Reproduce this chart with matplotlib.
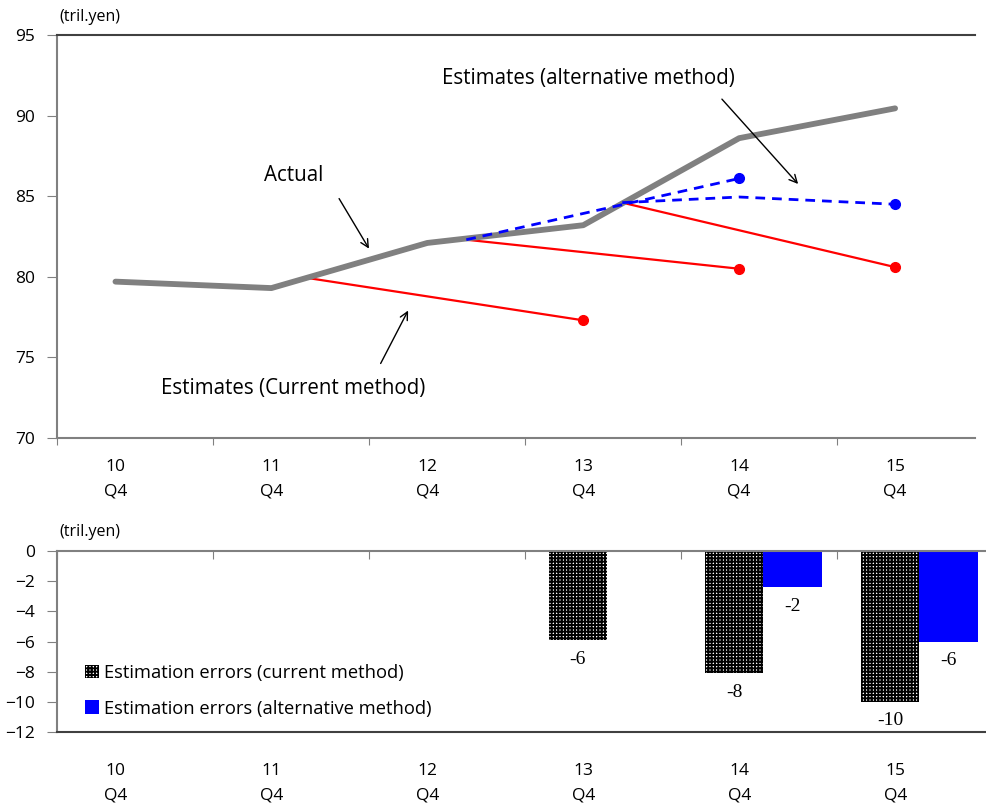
import numpy as np
import matplotlib
matplotlib.use("Agg")
import matplotlib.pyplot as plt

plt.rcParams['font.family'] = ['Open Sans', 'DejaVu Sans']
plt.rcParams['hatch.linewidth'] = 1.4

# fiscal-year categories, one per Q4; x positions are counted in quarters from 10Q4
years = ['10', '11', '12', '13', '14', '15']
year_q = [0, 4, 8, 12, 16, 20]

# actual values (tril.yen)
actual = [79.7, 79.3, 82.1, 83.2, 88.6, 90.45]

# estimates with the current method: start point on the actual line, end point 7 quarters later
cur_start_q = [5, 9, 13]
cur_start = [79.9, 82.3, 84.6]
cur_end_q = [12, 16, 20]
cur_end = [77.3, 80.5, 80.6]

# estimates with the alternative method
alt1_q = [9, 16]
alt1 = [82.3, 86.1]
alt2_q = [13, 16, 20]
alt2 = [84.6, 84.95, 84.5]

# estimation errors (tril.yen) for 13Q4, 14Q4, 15Q4
err_q = [12, 16, 20]
err_current = [-5.9, -8.1, -10.0]
err_alt = [np.nan, -2.4, -6.0]

W, H = 986, 806
fig = plt.figure(figsize=(W / 100, H / 100), dpi=100)


def px_axes(left, top, right, bottom):
    return fig.add_axes([left / W, 1 - bottom / H, (right - left) / W, (bottom - top) / H])


grey = '#808080'
dark = '#404040'
tick_fs = 12.5

# ---- upper panel: levels ----
ax = px_axes(57, 35, 975, 438)
ax.plot(year_q, actual, color='#808080', lw=4.2, solid_capstyle='round', zorder=3)
for s_q, s, e_q, e in zip(cur_start_q, cur_start, cur_end_q, cur_end):
    ax.plot([s_q, e_q], [s, e], color='#ff0000', lw=1.6, zorder=2)
    ax.plot(e_q, e, 'o', color='#ff0000', ms=7, zorder=4)
ax.plot(alt1_q, alt1, color='#0000ff', lw=2, ls=(0, (3.5, 2.5)), zorder=4)
ax.plot(alt1_q[-1], alt1[-1], 'o', color='#0000ff', ms=7, zorder=4)
ax.plot(alt2_q, alt2, color='#0000ff', lw=2, ls=(0, (3.5, 2.5)), zorder=4)
ax.plot(alt2_q[-1], alt2[-1], 'o', color='#0000ff', ms=7, zorder=4)

ax.set_xlim(-1.45, 22.05)
ax.set_ylim(70, 95)
ax.set_yticks(range(70, 96, 5))
ax.set_xticks(np.arange(-1.5, 22, 4))
ax.set_xticks(year_q, minor=True)
ax.set_xticklabels([])
ax.set_xticklabels([y + '\nQ4' for y in years], minor=True)
ax.tick_params(axis='x', which='major', direction='out', length=5, color=grey)
ax.tick_params(axis='x', which='minor', length=0, pad=15, labelsize=tick_fs)
ax.tick_params(axis='y', direction='out', length=7, color=grey, pad=9, labelsize=tick_fs)
for lab in ax.get_xticklabels(minor=True):
    lab.set_linespacing(1.75)
ax.spines['right'].set_visible(False)
ax.spines['left'].set_color(grey)
ax.spines['bottom'].set_color(grey)
ax.spines['top'].set_color(dark)
for sp in ax.spines.values():
    sp.set_linewidth(1.5)
ax.text(-1.45, 95.6, '(tril.yen)', fontsize=11.5, ha='left', va='bottom')

arrow = dict(arrowstyle='->', color='black', lw=1, mutation_scale=14)
ax.text(4.57, 86.3, 'Actual', fontsize=14.8, ha='center', va='center')
ax.annotate('', xy=(6.54, 81.6), xytext=(5.7, 85.0), arrowprops=arrow)
ax.text(4.57, 73.1, 'Estimates (Current method)', fontsize=14.8, ha='center', va='center')
ax.annotate('', xy=(7.54, 78.06), xytext=(6.77, 74.47), arrowprops=arrow)
ax.text(12.14, 92.33, 'Estimates (alternative method)', fontsize=14.8, ha='center', va='center')
ax.annotate('', xy=(17.56, 85.63), xytext=(15.51, 91.15), arrowprops=arrow)

# ---- lower panel: estimation errors ----
bx = px_axes(57, 551, 986, 732)
bw = 1.5
cur_x = [q - 0.9 for q in err_q]
alt_x = [q + 0.6 for q in err_q]
b1 = bx.bar(cur_x, err_current, width=bw, align='edge', color='white',
            edgecolor='black', hatch='+++++', lw=0, label='Estimation errors (current method)')
b2 = bx.bar(alt_x, err_alt, width=bw, align='edge', color='#0000ff',
            lw=0, label='Estimation errors (alternative method)')
for bars, vals in ((b1, err_current), (b2, err_alt)):
    for rect, v in zip(bars, vals):
        if np.isnan(v):
            continue
        bx.text(rect.get_x() + rect.get_width() / 2, v - 0.7, '%.0f' % v,
                ha='center', va='top', fontsize=14, family='Liberation Serif')

bx.set_xlim(-1.45, (986 - 113) / 39.13)
bx.set_ylim(-12, 0)
bx.set_yticks(range(-12, 1, 2))
bx.set_xticks(np.arange(-1.5, 22, 4))
bx.set_xticks(year_q, minor=True)
bx.set_xticklabels([])
bx.set_xticklabels([y + '\nQ4' for y in years], minor=True)
bx.tick_params(axis='x', which='major', top=True, bottom=False, direction='in',
               length=6, color=grey, labeltop=False, labelbottom=False)
bx.tick_params(axis='x', which='minor', length=0, pad=22, labelsize=tick_fs)
bx.tick_params(axis='y', direction='out', length=7, color=grey, pad=9, labelsize=tick_fs)
for lab in bx.get_xticklabels(minor=True):
    lab.set_linespacing(1.75)
bx.spines['right'].set_visible(False)
bx.spines['left'].set_color(grey)
bx.spines['top'].set_color(grey)
bx.spines['bottom'].set_color(dark)
for sp in bx.spines.values():
    sp.set_linewidth(1.5)
bx.text(-1.45, 0.75, '(tril.yen)', fontsize=11.5, ha='left', va='bottom')
bx.legend(loc='lower left', bbox_to_anchor=(0.03, 0.08), frameon=False, fontsize=13.2,
          handlelength=0.75, handleheight=0.75, handletextpad=0.3, labelspacing=0.95,
          borderaxespad=0, borderpad=0)

fig.savefig('out.png', dpi=100)
